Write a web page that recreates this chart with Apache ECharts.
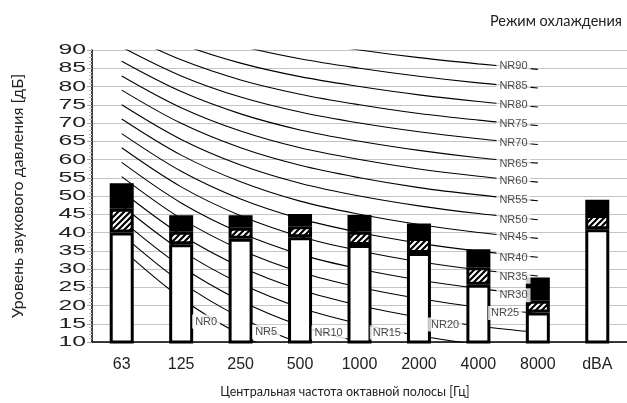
<!DOCTYPE html>
<html><head><meta charset="utf-8">
<script src="https://cdn.jsdelivr.net/npm/echarts@6/dist/echarts.min.js"></script>
<style>html,body{margin:0;padding:0;background:#fff}#c{width:627px;height:403px}</style>
</head><body><div id="c"></div>
<script>
// ---- data ----
const categories = ['63', '125', '250', '500', '1000', '2000', '4000', '8000', 'dBA'];
const yTicks = [10, 15, 20, 25, 30, 35, 40, 45, 50, 55, 60, 65, 70, 75, 80, 85, 90];
const whiteTop = [40.0, 36.8, 38.3, 38.7, 36.6, 34.4, 25.7, 18.1, 40.9];
const hatchTop = [46.5, 40.2, 41.3, 41.7, 40.2, 38.5, 30.5, 21.3, 44.8];
const barTop   = [53.5, 44.7, 44.7, 45.1, 44.8, 42.5, 35.4, 27.7, 49.0];

const nrNames = ['NR0','NR5','NR10','NR15','NR20','NR25','NR30','NR35','NR40','NR45','NR50','NR55','NR60','NR65','NR70','NR75','NR80','NR85','NR90'];
const nr0  = [35.5, 22.0, 12.0,  4.8,  0.0, -3.5, -6.1, -8.0];
const nr5  = [39.5, 26.4, 16.7,  9.7,  5.0,  1.6, -1.0, -2.9];
const nr10 = [43.4, 30.7, 21.3, 14.5, 10.0,  6.7,  4.2,  2.3];
const nr15 = [47.4, 35.1, 26.0, 19.4, 15.0, 11.7,  9.3,  7.5];
const nr20 = [51.3, 39.4, 30.6, 24.3, 20.0, 16.8, 14.4, 12.6];
const nr25 = [55.3, 43.8, 35.3, 29.2, 25.0, 21.9, 19.5, 17.8];
const nr30 = [59.2, 48.1, 39.9, 34.0, 30.0, 27.0, 24.7, 22.9];
const nr35 = [63.2, 52.5, 44.6, 38.9, 35.0, 32.0, 29.8, 28.1];
const nr40 = [67.1, 56.8, 49.2, 43.8, 40.0, 37.1, 34.9, 33.2];
const nr45 = [71.1, 61.2, 53.9, 48.6, 45.0, 42.2, 40.0, 38.4];
const nr50 = [75.0, 65.5, 58.5, 53.5, 50.0, 47.3, 45.2, 43.5];
const nr55 = [79.0, 69.9, 63.2, 58.4, 55.0, 52.3, 50.3, 48.7];
const nr60 = [82.9, 74.2, 67.8, 63.2, 60.0, 57.4, 55.4, 53.8];
const nr65 = [86.9, 78.6, 72.5, 68.1, 65.0, 62.5, 60.5, 59.0];
const nr70 = [90.8, 82.9, 77.1, 73.0, 70.0, 67.6, 65.7, 64.1];
const nr75 = [94.8, 87.3, 81.8, 77.9, 75.0, 72.6, 70.8, 69.3];
const nr80 = [98.7, 91.6, 86.4, 82.7, 80.0, 77.7, 75.9, 74.4];
const nr85 = [102.7, 96.0, 91.1, 87.6, 85.0, 82.8, 81.0, 79.6];
const nr90 = [106.6, 100.3, 95.7, 92.5, 90.0, 87.9, 86.2, 84.7];
const nrCurves = [nr0, nr5, nr10, nr15, nr20, nr25, nr30, nr35, nr40, nr45, nr50, nr55, nr60, nr65, nr70, nr75, nr80, nr85, nr90];
// where each NR label sits (x in category-index units, y in dB)
const nrLabelX = [1.42, 2.43, 3.48, 4.46, 5.44, 6.45, 6.59, 6.59, 6.59, 6.59, 6.59, 6.59, 6.59, 6.59, 6.59, 6.59, 6.59, 6.59, 6.59];
const nrLabelY = [15.6, 12.8, 12.6, 12.6, 14.8, 17.95, 22.8, 27.9, 33.0, 38.7, 43.55, 48.9, 54.0, 58.9, 64.4, 69.7, 74.9, 80.05, 85.7];

const titleText = 'Режим охлаждения';
const xTitle = 'Центральная частота октавной полосы [Гц]';
const yTitle = 'Уровень звукового давления [дБ]';

// ---- chart ----
function hatchCanvas() {
  const s = 6, c = document.createElement('canvas');
  c.width = s; c.height = s;
  const g = c.getContext('2d');
  g.fillStyle = '#fff'; g.fillRect(0, 0, s, s);
  g.strokeStyle = '#000'; g.lineWidth = 2.2;
  g.beginPath();
  g.moveTo(-1, s + 1); g.lineTo(s + 1, -1);
  g.moveTo(-1, 1); g.lineTo(1, -1);
  g.moveTo(s - 1, s + 1); g.lineTo(s + 1, s - 1);
  g.stroke();
  return c;
}
const uiFont = 'Lato, "Open Sans", sans-serif';
const numFont = '"Liberation Sans", Arial, sans-serif';

const chart = echarts.init(document.getElementById('c'), null, { renderer: 'canvas' });
const series = [];
nrCurves.forEach((curve, i) => {
  series.push({
    type: 'line', name: nrNames[i], xAxisIndex: 0, yAxisIndex: 0,
    data: curve, smooth: 0.35, symbol: 'none', silent: true, z: 1,
    lineStyle: { color: '#000', width: 1.1 }
  });
});
const hatch = { image: hatchCanvas(), repeat: 'repeat' };
const barStyle = (fill) => ({ color: fill, borderColor: '#000', borderWidth: 3 });
series.push({
  type: 'bar', stack: 'lvl', data: whiteTop, barWidth: 24, z: 3, silent: true,
  itemStyle: barStyle('#fff')
});
series.push({
  type: 'bar', stack: 'lvl', data: hatchTop.map((v, i) => +(v - whiteTop[i]).toFixed(2)), barWidth: 24, z: 3, silent: true,
  itemStyle: barStyle(hatch)
});
series.push({
  type: 'bar', stack: 'lvl', data: barTop.map((v, i) => +(v - hatchTop[i]).toFixed(2)), barWidth: 24, z: 3, silent: true,
  itemStyle: barStyle('#000')
});
series.push({
  type: 'scatter', xAxisIndex: 1, yAxisIndex: 0, z: 10, silent: true,
  symbolSize: 0,
  data: nrNames.map((n, i) => ({ value: [nrLabelX[i], nrLabelY[i]], name: n })),
  label: {
    show: true, position: 'inside', formatter: '{b}',
    fontFamily: numFont, fontSize: 11, color: '#1a1a1a',
    backgroundColor: '#fff', padding: [2, 3, 1, 3]
  }
});

chart.setOption({
  animation: false,
  backgroundColor: '#fff',
  title: {
    text: titleText, right: 0, top: 9,
    textStyle: { fontFamily: uiFont, fontSize: 14.5, fontWeight: 'normal', color: '#222' }
  },
  grid: { left: 92, right: -8, top: 50, bottom: 58, containLabel: false },
  xAxis: [{
    type: 'category', data: categories,
    axisLine: { onZero: false, lineStyle: { color: '#000', width: 1.5 } },
    axisTick: { show: false },
    axisLabel: { fontFamily: numFont, fontSize: 16, color: '#222', margin: 15 },
    name: xTitle, nameLocation: 'middle', nameGap: 43,
    nameTextStyle: { fontFamily: uiFont, fontSize: 12.5, color: '#222', padding: [0, 29, 0, 0] }
  }, {
    type: 'value', min: -0.5, max: 8.5, show: false
  }],
  yAxis: {
    type: 'value', min: 10, max: 90, interval: 5,
    axisLine: { show: true, onZero: false, lineStyle: { color: '#000', width: 1.5 } },
    axisTick: { show: true, length: 5, lineStyle: { color: '#aaa' } },
    minorTick: { show: true, splitNumber: 5, length: 3, lineStyle: { color: '#bbb' } },
    splitLine: { lineStyle: { color: '#c4c4c4', width: 1 } },
    axisLabel: { show: false },
    name: yTitle, nameLocation: 'middle', nameGap: 66, nameRotate: 90,
    nameTextStyle: { fontFamily: uiFont, fontSize: 16, color: '#222' }
  },
  series: series
});

// y tick labels: horizontally widened text, placed through the y axis scale
const labelRight = chart.convertToPixel({ gridIndex: 0 }, [0, 10]);
chart.setOption({
  graphic: yTicks.map(v => ({
    type: 'text', silent: true,
    x: 86,
    y: chart.convertToPixel({ yAxisIndex: 0 }, v),
    scaleX: 1.65,
    style: {
      text: String(v), fill: '#222', font: '15px "Liberation Sans", Arial, sans-serif',
      textAlign: 'right', textVerticalAlign: 'middle'
    }
  }))
});
</script>
</body></html>
